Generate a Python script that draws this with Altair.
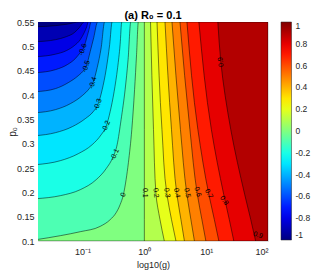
import altair as alt
import pandas as pd

# ---------------- data ----------------
# left-hand family of contour lines (level <= 0): p0 as a function of log10(g)
c_m09_lg = [-1.75, -1.440, -1.247, -1.053]
c_m09_p0 = [0.5403, 0.5424, 0.5455, 0.55]
c_m08_lg = [-1.75, -1.440, -1.263, -1.134, -1.053, -0.973]
c_m08_p0 = [0.5095, 0.5136, 0.5198, 0.5280, 0.5383, 0.55]
c_m07_lg = [-1.75, -1.440, -1.263, -1.134, -1.037, -0.973, -0.932, -0.908]
c_m07_p0 = [0.4787, 0.4838, 0.4910, 0.5013, 0.5136, 0.5280, 0.5403, 0.55]
c_m06_lg = [-1.75, -1.440, -1.247, -1.118, -1.037, -0.994, -0.940, -0.900, -0.860]
c_m06_p0 = [0.4458, 0.4520, 0.4623, 0.4746, 0.4869, 0.4931, 0.5136, 0.5321, 0.55]
c_m05_lg = [-1.75, -1.440, -1.231, -1.069, -0.973, -0.940, -0.876, -0.819, -0.755]
c_m05_p0 = [0.4068, 0.4130, 0.4253, 0.4397, 0.4520, 0.4588, 0.4890, 0.5177, 0.55]
c_m04_lg = [-1.75, -1.440, -1.198, -1.005, -0.892, -0.832, -0.763, -0.698, -0.642]
c_m04_p0 = [0.3636, 0.3698, 0.3821, 0.3986, 0.4130, 0.4247, 0.4561, 0.4972, 0.55]
c_m03_lg = [-1.75, -1.440, -1.166, -0.956, -0.827, -0.752, -0.682, -0.618, -0.561, -0.521]
c_m03_p0 = [0.3164, 0.3225, 0.3349, 0.3513, 0.3657, 0.3801, 0.4109, 0.4520, 0.5034, 0.55]
c_m02_lg = [-1.75, -1.360, -1.069, -0.844, -0.698, -0.618, -0.553, -0.489, -0.432, -0.392, -0.365]
c_m02_p0 = [0.2568, 0.2650, 0.2794, 0.2979, 0.3184, 0.3355, 0.3657, 0.4068, 0.4561, 0.5034, 0.55]
c_m01_lg = [-1.75, -1.360, -1.037, -0.779, -0.618, -0.505, -0.440, -0.376, -0.311, -0.263, -0.219]
c_m01_p0 = [0.1869, 0.1931, 0.2054, 0.2260, 0.2486, 0.2732, 0.2979, 0.3493, 0.4109, 0.4725, 0.55]
c_000_lg = [-1.75, -1.360, -1.037, -0.715, -0.553, -0.456, -0.392, -0.339, -0.295, -0.258, -0.203, -0.158, -0.126, -0.097]
c_000_p0 = [0.1027, 0.1109, 0.1191, 0.1300, 0.1438, 0.1582, 0.1746, 0.1952, 0.2260, 0.2609, 0.3287, 0.4109, 0.4828, 0.55]

# right-hand family (level > 0): log10(g) as a function of p0
right_p0 = [0.55, 0.329, 0.195, 0.144, 0.1]
c_p01_lg = [0.0, 0.0, 0.0, 0.0, 0.0]
c_p02_lg = [0.100, 0.148, 0.189, 0.253, 0.323]
c_p03_lg = [0.205, 0.285, 0.366, 0.439, 0.511]
c_p04_lg = [0.334, 0.439, 0.527, 0.592, 0.648]
c_p05_lg = [0.447, 0.584, 0.689, 0.753, 0.810]
c_p06_lg = [0.576, 0.737, 0.858, 0.931, 0.995]
c_p07_lg = [0.689, 0.866, 1.044, 1.132, 1.205]
c_p08_lg = [0.882, 1.084, 1.285, 1.374, 1.447]
c_p09_p0 = [0.55, 0.468, 0.329, 0.195, 0.144, 0.1]
c_p09_lg = [1.189, 1.237, 1.398, 1.624, 1.721, 1.800]

# contour labels
lab_text = ["-0.6", "-0.5", "-0.4", "-0.3", "-0.2", "-0.1", "0",
            "0.1", "0.2", "0.3", "0.4", "0.5", "0.6", "0.7", "0.8", "0.9", "0.9"]
lab_lg = [-0.994, -0.940, -0.832, -0.752, -0.618, -0.480, -0.339,
          0.011, 0.189, 0.366, 0.527, 0.694, 0.861, 1.044, 1.290, 1.237, 1.840]
lab_p0 = [0.4931, 0.4588, 0.4247, 0.3801, 0.3355, 0.2773, 0.1952,
          0.199, 0.199, 0.199, 0.199, 0.199, 0.201, 0.197, 0.183, 0.468, 0.112]
lab_angle = [290, 288, 287, 290, 292, 295, 290,
             90, 85, 82, 80, 78, 72, 62, 55, 262, 20]

x_ticks = [-1, 0, 1, 2]
y_ticks = [0.1, 0.15, 0.2, 0.25, 0.3, 0.35, 0.4, 0.45, 0.5, 0.55]
cbar_ticks = [-1, -0.8, -0.6, -0.4, -0.2, 0, 0.2, 0.4, 0.6, 0.8, 1]

# ---------------- styling ----------------
JET = ["#000080", "#0000ff", "#0080ff", "#00ffff", "#80ff80",
       "#ffff00", "#ff8000", "#ff0000", "#800000"]
XMIN, XMAX = -1.72, 2.0
PMIN, PMAX = 0.1, 0.55
FONT = "Liberation Sans"
AX = "#262626"

color_scale = alt.Scale(domain=[-1, 1], range=JET, interpolate="rgb")
legend = alt.Legend(orient="right", offset=13, padding=0, title=None, type="gradient",
                    direction="vertical", gradientLength=218, gradientThickness=10.5,
                    values=cbar_ticks, labelExpr="'' + datum.value", labelFontSize=8.5,
                    labelFont=FONT, labelColor=AX, labelOffset=4, labelOverlap=False,
                    gradientStrokeColor=AX, gradientStrokeWidth=0.5)
color_enc = alt.Color("lvl:Q", scale=color_scale, legend=legend)

x_axis = alt.Axis(values=x_ticks,
                  labelExpr="datum.value == -1 ? '10⁻¹' : datum.value == 0 ? '10⁰' : datum.value == 1 ? '10¹' : '10²'",
                  title="log10(g)", ticks=False, domain=False, grid=False,
                  labelPadding=6, labelFontSize=9, labelFont=FONT, labelColor=AX,
                  titleFont=FONT, titleFontSize=9, titleFontWeight="normal", titleColor=AX,
                  titleY=26, titleBaseline="alphabetic")
y_axis = alt.Axis(values=y_ticks, labelExpr="'' + datum.value", title="p₀",
                  ticks=False, domain=False, grid=False, labelPadding=4,
                  labelFontSize=9, labelFont=FONT, labelColor=AX,
                  titleFont=FONT, titleFontSize=10, titleFontWeight="normal", titleColor=AX,
                  titleX=-23, titleY=109.5, titleAngle=270, titleBaseline="alphabetic")
x_enc = alt.X("lg:Q", scale=alt.Scale(domain=[XMIN, XMAX], nice=False, zero=False), axis=x_axis)
y_enc = alt.Y("p0:Q", scale=alt.Scale(domain=[PMIN, PMAX], nice=False, zero=False), axis=y_axis, stack=None)

area_style = dict(stroke="black", strokeWidth=0.55, strokeOpacity=0.9,
                  interpolate="monotone", clip=True)

layers = []
# lowest band fills the whole plot
bg = pd.DataFrame({"lg": [XMIN - 0.03, XMAX], "p0": [PMAX, PMAX], "pb": [PMIN, PMIN], "lvl": [-1, -1]})
layers.append(alt.Chart(bg).mark_area(clip=True).encode(x=x_enc, y=y_enc, y2="pb:Q", color=color_enc))

left = [(-0.9, c_m09_lg, c_m09_p0), (-0.8, c_m08_lg, c_m08_p0), (-0.7, c_m07_lg, c_m07_p0),
        (-0.6, c_m06_lg, c_m06_p0), (-0.5, c_m05_lg, c_m05_p0), (-0.4, c_m04_lg, c_m04_p0),
        (-0.3, c_m03_lg, c_m03_p0), (-0.2, c_m02_lg, c_m02_p0), (-0.1, c_m01_lg, c_m01_p0),
        (0.0, c_000_lg, c_000_p0)]
for lvl, lgs, p0s in left:
    df = pd.DataFrame({"lg": list(lgs) + [XMAX], "p0": list(p0s) + [PMAX]})
    df["pb"] = PMIN
    df["lvl"] = lvl
    layers.append(alt.Chart(df).mark_area(**area_style).encode(
        x=x_enc, y=y_enc, y2="pb:Q", color=color_enc))

right = [(0.1, c_p01_lg, right_p0), (0.2, c_p02_lg, right_p0), (0.3, c_p03_lg, right_p0),
         (0.4, c_p04_lg, right_p0), (0.5, c_p05_lg, right_p0), (0.6, c_p06_lg, right_p0),
         (0.7, c_p07_lg, right_p0), (0.8, c_p08_lg, right_p0), (0.9, c_p09_lg, c_p09_p0)]
for lvl, lgs, p0s in right:
    df = pd.DataFrame({"lg": lgs, "p0": p0s})
    df["lg2"] = XMAX
    df["lvl"] = lvl
    layers.append(alt.Chart(df).mark_area(orient="horizontal", **area_style).encode(
        x=x_enc, x2="lg2:Q", y=y_enc, color=color_enc))

labels = pd.DataFrame({"lg": lab_lg, "p0": lab_p0, "t": lab_text, "a": lab_angle})
layers.append(alt.Chart(labels).mark_text(fontSize=7, font=FONT, color="black").encode(
    x=x_enc, y=y_enc, text="t:N", angle=alt.Angle("a:Q", scale=None)))

chart = alt.layer(*layers).properties(
    width=230, height=219,
    autosize=alt.AutoSizeParams(type="none"),
    padding={"left": 30, "top": 14, "right": 44, "bottom": 30},
    title=alt.TitleParams("(a) R₀ = 0.1", fontSize=11, fontWeight="bold", font=FONT,
                          anchor="middle", frame="group", offset=0, dy=11.5,
                          baseline="alphabetic", color="black"),
).configure_view(stroke=AX, strokeWidth=0.6).configure(background="white")

chart.save("out.html", embed_options={"renderer": "svg", "actions": False})
